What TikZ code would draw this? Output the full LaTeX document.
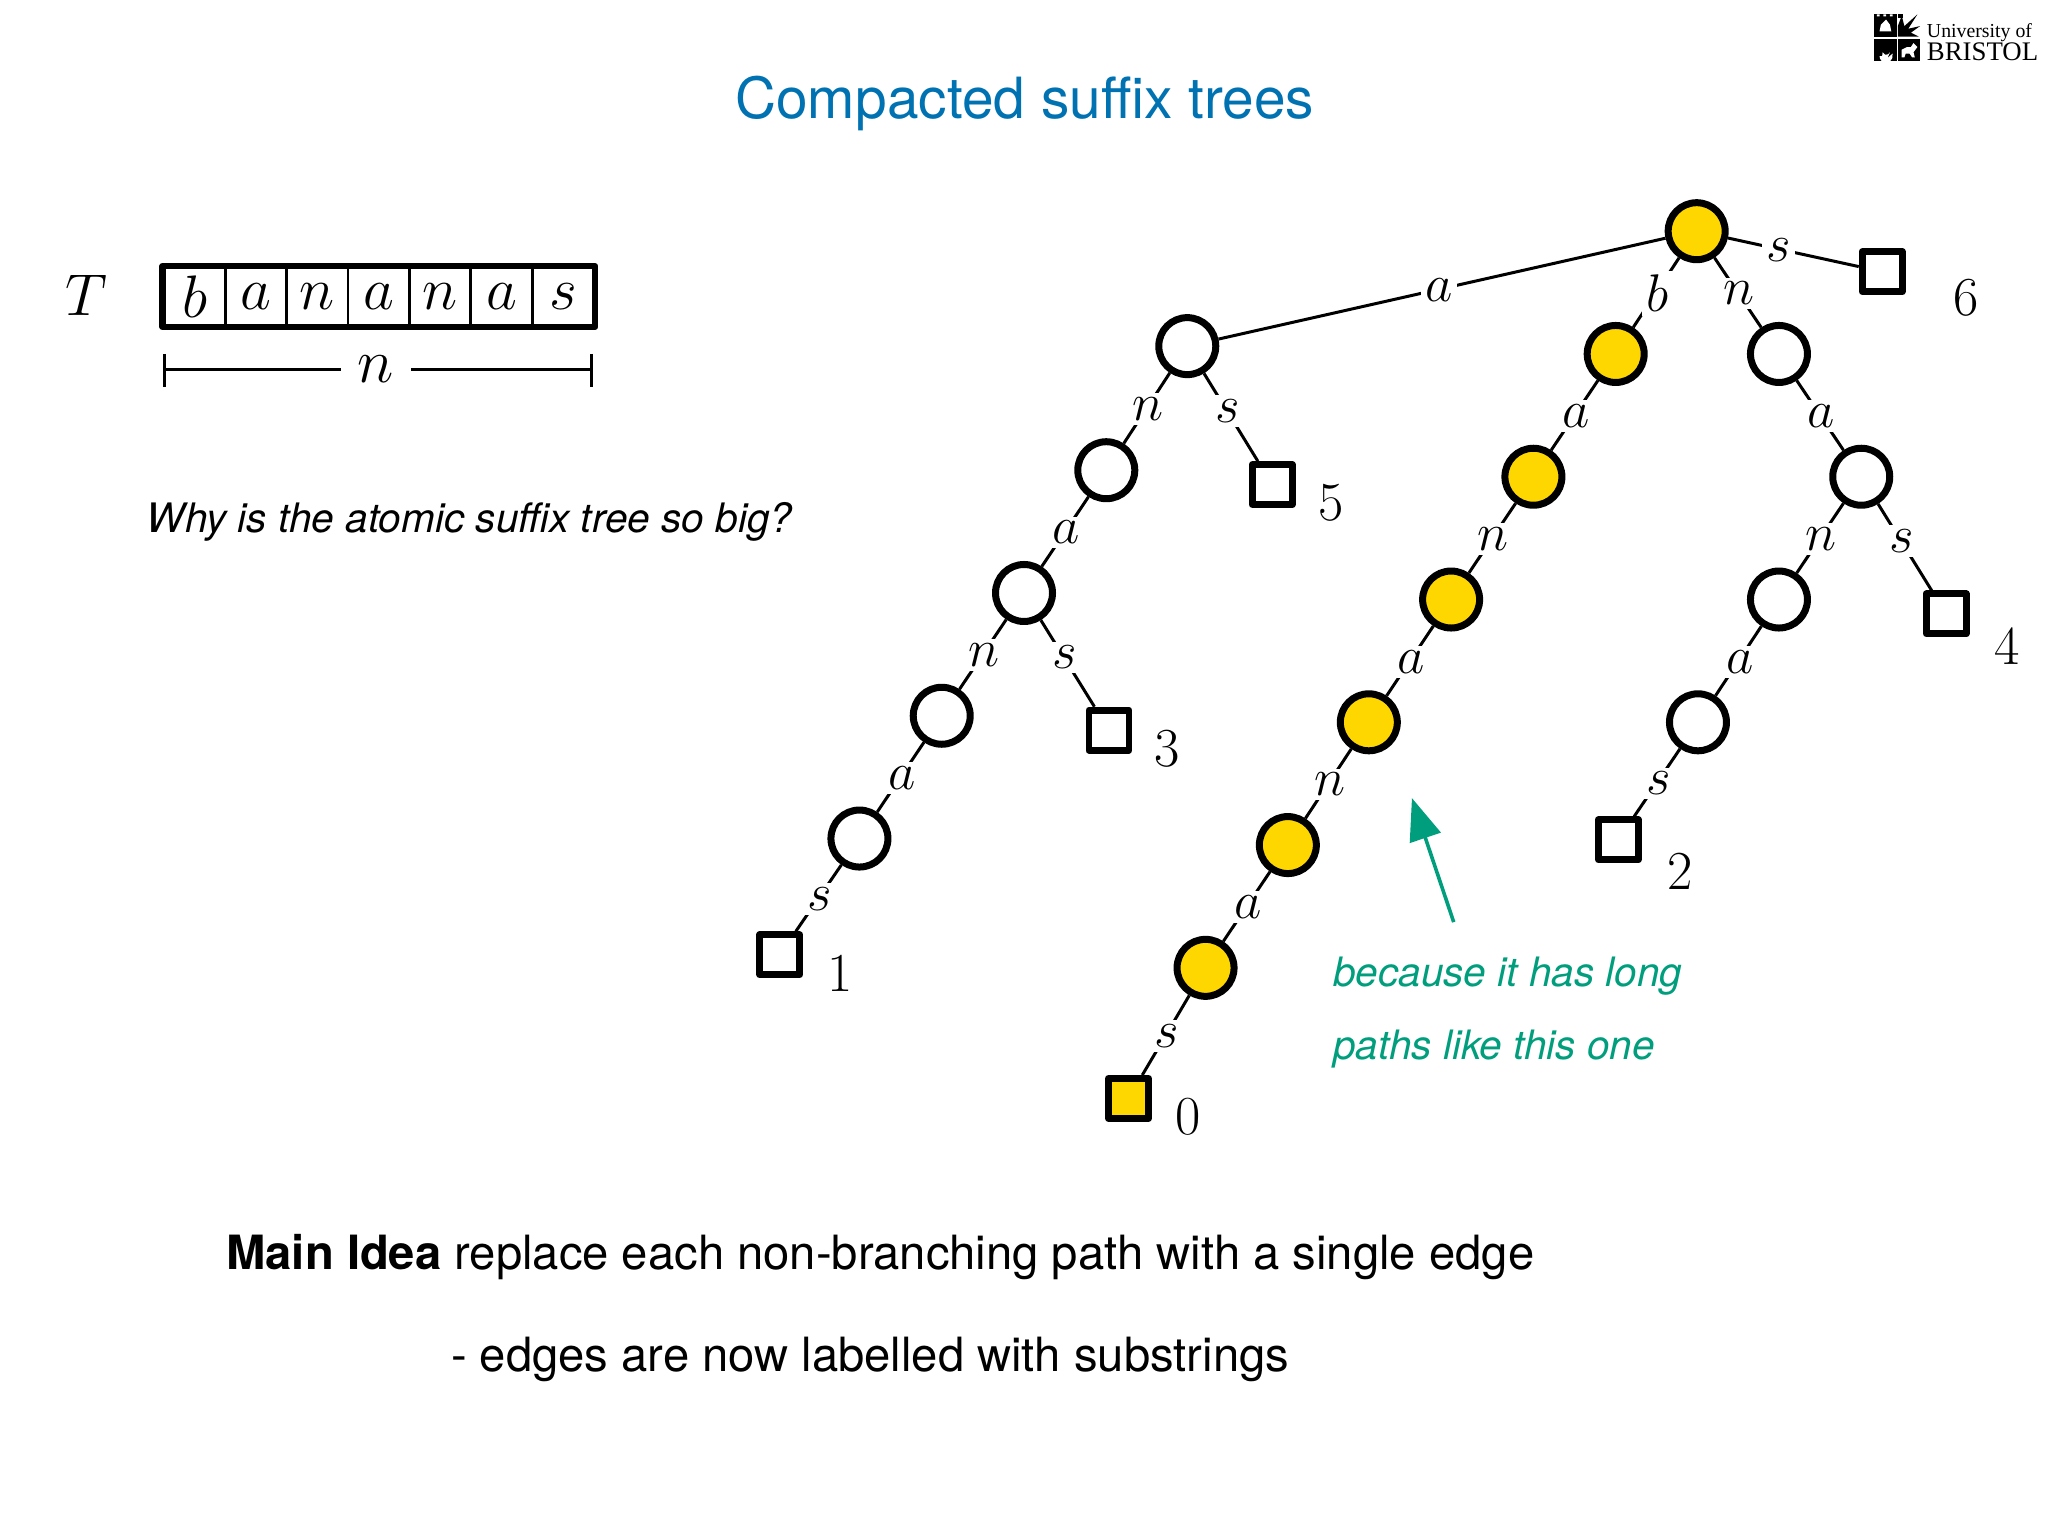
\RequirePackage{fix-cm}
\documentclass[tikz,border=0pt]{standalone}
\usepackage[no-math]{fontspec}
\newfontfamily\heros{TeX Gyre Heros}
\newfontfamily\logoserif{Liberation Serif}
\usetikzlibrary{arrows.meta}
\definecolor{titleblue}{RGB}{0,114,178}
\definecolor{notegreen}{RGB}{0,158,125}
\definecolor{gold}{RGB}{255,215,0}
\tikzset{
  inode/.style={circle,draw=black,line width=3.5pt,fill=white,minimum size=28.5pt,inner sep=0pt},
  ynode/.style={inode,fill=gold},
  leaf/.style={rectangle,draw=black,line width=3.4pt,fill=white,minimum size=20pt,inner sep=0pt,line join=round},
  yleaf/.style={leaf,fill=gold},
  edgeline/.style={line width=1.5pt,black},
  lab/.style={fill=white,inner sep=2.2pt,xshift=0.6pt,yshift=-0.4pt,font=\fontsize{26.5}{30}\selectfont},
  num/.style={font=\fontsize{27.5}{32}\selectfont},
  cell/.style={rectangle,minimum width=30.7pt,minimum height=29pt,inner sep=0pt,draw=black,line width=1.4pt,font=\fontsize{30}{34}\selectfont},
  mtext/.style={anchor=base west,inner sep=0pt,font=\heros\fontsize{23.6}{28}\selectfont},
  gtext/.style={anchor=base west,inner sep=0pt,text=notegreen,font=\heros\itshape\fontsize{20.25}{24}\selectfont},
}
\newcommand{\edgeL}[4]{\draw[edgeline] (#1) -- node[lab,pos=#4] {$#3$} (#2);}
\begin{document}
\begin{tikzpicture}[x=0.65306pt,y=-0.65306pt]
\useasboundingbox (0,0) rectangle (1568,1176);
% title
\node[anchor=base,inner sep=0pt,text=titleblue,font=\heros\fontsize{28.4}{34}\selectfont] (title) at (784.5,91) {Compacted suffix trees};
% logo
\fill[black] (1434.5,11) rectangle (1452,28);
\fill[black] (1453,29.5) rectangle (1470,47);
\fill[black] (1434.5,29.5) rectangle (1452,47);
\fill[black] (1453,11) rectangle (1457,14);
\fill[black] (1453,28) -- (1453,20) -- (1456,12) -- (1458,20) -- (1468,11) -- (1461,22) -- (1470,20) -- (1463,25) -- (1469,28) -- cycle;
\fill[white] (1440,19) -- (1444,15) -- (1447,19) -- (1448,24) -- (1439,24) -- cycle;
\fill[white] (1437,11) rectangle (1439,12.5) (1442,11) rectangle (1444,12.5) (1447,11) rectangle (1449,12.5);
\fill[white] (1439,43) arc (180:20:5) -- (1449,41) -- (1445,44.5) -- (1447,40) arc (20:160:3) -- (1441,43) -- cycle;
\fill[white] (1456,38) -- (1460,36) -- (1463,36) -- (1465,33) -- (1468,36) -- (1465,40) -- (1466,44) -- (1464,44) -- (1462,41) -- (1459,41) -- (1458,44) -- (1456,44) -- cycle;
\node[anchor=base west,inner sep=0pt,font=\logoserif\fontsize{9.9}{11}\selectfont] (uni) at (1475,28.5) {University of};
\node[anchor=base west,inner sep=0pt,font=\logoserif\fontsize{13.4}{15}\selectfont] (bri) at (1475,46.5) {BRISTOL};
% text array
\node[font=\fontsize{29.5}{36}\selectfont] (T) at (66.5,226) {$T$};
\foreach \i/\c/\x in {0/b/149,1/a/196,2/n/243,3/a/290,4/n/337,5/a/384,6/s/431}
  \node[cell] (c\i) at (\x,227) {$\c$};
\draw[line width=3.2pt,line join=round] (c0.north west) rectangle (c6.south east);
\coordinate (nl) at (126,283);
\coordinate (nr) at (453,283);
\coordinate (nlt) at (126,271);
\coordinate (nlb) at (126,296);
\coordinate (nrt) at (453,271);
\coordinate (nrb) at (453,296);
\draw[edgeline] (nl) -- node[pos=0.494,fill=white,inner sep=0pt,minimum width=35pt,minimum height=18pt,font=\fontsize{31}{36}\selectfont] (nlab) {$n$} (nr);
\draw[edgeline] (nlt) -- (nlb);
\draw[edgeline] (nrt) -- (nrb);
% tree nodes
\node[ynode] (r) at (1299,177) {};
\node[inode] (A) at (909,265) {};
\node[inode] (A1) at (847,360) {};
\node[inode] (A2) at (784,454) {};
\node[inode] (A3) at (721,548) {};
\node[inode] (A4) at (658,642) {};
\node[leaf] (L1) at (597,731) {};
\node[leaf] (L5) at (974,371) {};
\node[leaf] (L3) at (849,559) {};
\node[ynode] (B1) at (1237,271) {};
\node[ynode] (B2) at (1174,365) {};
\node[ynode] (B3) at (1111,459) {};
\node[ynode] (B4) at (1048,553) {};
\node[ynode] (B5) at (986,647) {};
\node[ynode] (B6) at (923,741) {};
\node[yleaf] (L0) at (864,841) {};
\node[inode] (N1) at (1362,271) {};
\node[inode] (N2) at (1425,365) {};
\node[inode] (N3) at (1362,459) {};
\node[inode] (N4) at (1300,553) {};
\node[leaf] (L2) at (1239,643) {};
\node[leaf] (L4) at (1490,470) {};
\node[leaf] (L6) at (1441,208) {};
% edges
\edgeL{r}{A}{a}{0.51}
\edgeL{r}{B1}{b}{0.5}
\edgeL{r}{N1}{n}{0.5}
\edgeL{r}{L6}{s}{0.38}
\edgeL{A}{A1}{n}{0.5}
\edgeL{A}{L5}{s}{0.42}
\edgeL{A1}{A2}{a}{0.5}
\edgeL{A2}{A3}{n}{0.5}
\edgeL{A2}{L3}{s}{0.42}
\edgeL{A3}{A4}{a}{0.5}
\edgeL{A4}{L1}{s}{0.5}
\edgeL{B1}{B2}{a}{0.5}
\edgeL{B2}{B3}{n}{0.5}
\edgeL{B3}{B4}{a}{0.5}
\edgeL{B4}{B5}{n}{0.5}
\edgeL{B5}{B6}{a}{0.5}
\edgeL{B6}{L0}{s}{0.5}
\edgeL{N1}{N2}{a}{0.5}
\edgeL{N2}{N3}{n}{0.5}
\edgeL{N2}{L4}{s}{0.42}
\edgeL{N3}{N4}{a}{0.5}
\edgeL{N4}{L2}{s}{0.5}
% leaf numbers
\node[num] (n0) at (909.5,855) {0};
\node[num] (n1) at (643,745) {1};
\node[num] (n2) at (1286,667) {2};
\node[num] (n3) at (893.5,573) {3};
\node[num] (n4) at (1537,495) {4};
\node[num] (n5) at (1019,385) {5};
\node[num] (n6) at (1505,228) {6};
% text
\node[anchor=base west,inner sep=0pt,font=\heros\itshape\fontsize{20.3}{24}\selectfont] (why) at (112,408) {Why is the atomic suffix tree so big?};
\node[gtext] (g1) at (1020.5,755) {because it has long};
\node[gtext] (g2) at (1020.5,811) {paths like this one};
\coordinate (as) at (1113,706);
\coordinate (ae) at (1081,611);
\draw[notegreen,line width=1.8pt,-{Triangle[length=21pt,width=16pt]}] (as) -- (ae);
\node[mtext] (m1) at (173,972) {\textbf{Main Idea} replace each non-branching path with a single edge};
\node[mtext] (m2) at (345,1050) {- edges are now labelled with substrings};
\end{tikzpicture}
\end{document}
